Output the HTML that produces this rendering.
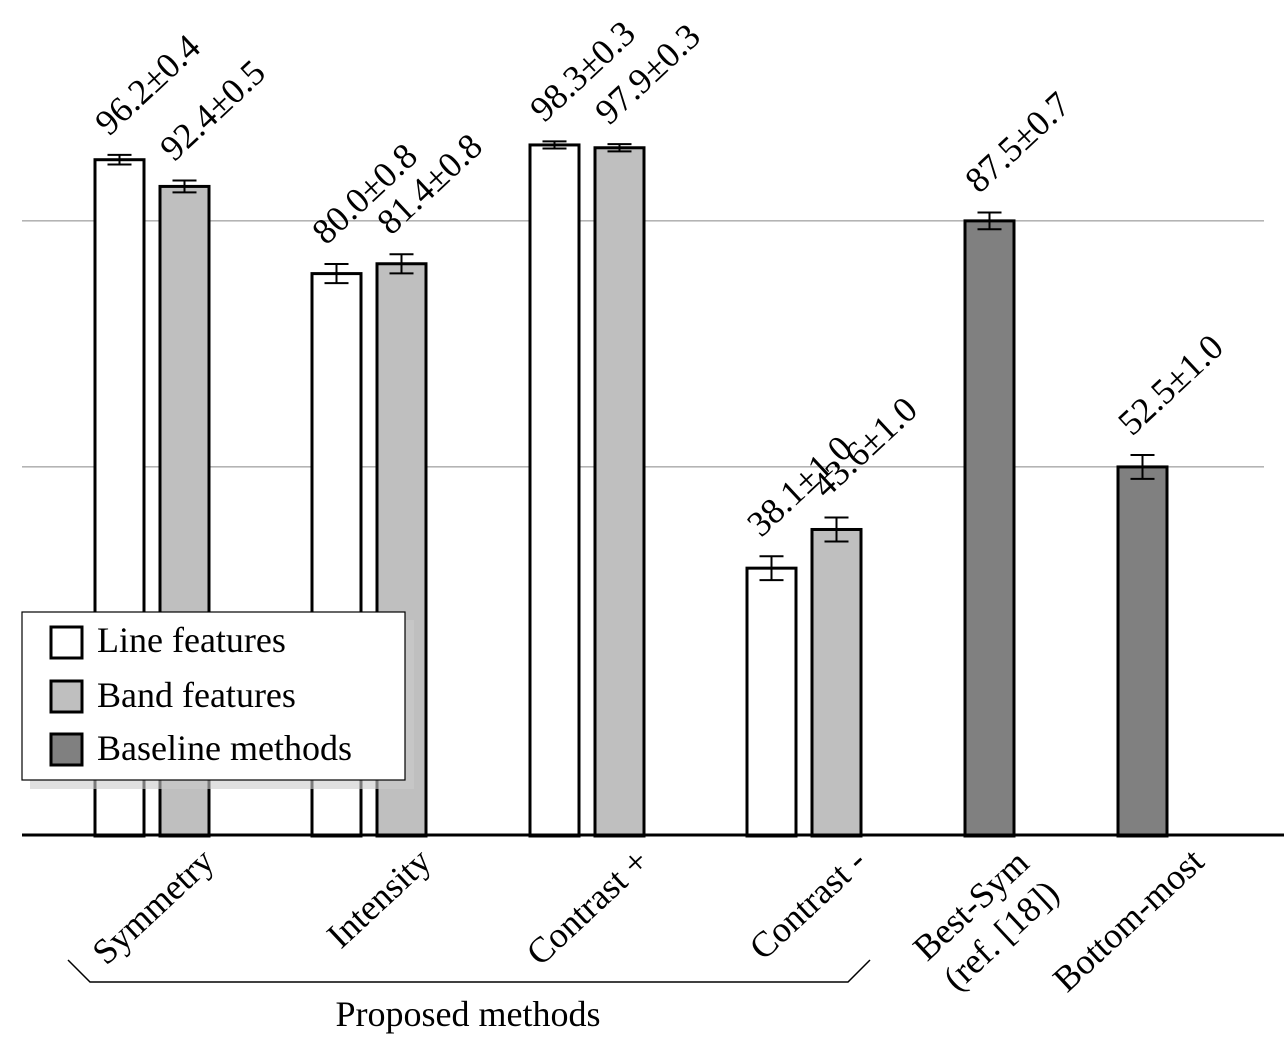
<!DOCTYPE html>
<html><head><meta charset="utf-8"><style>
body{margin:0;background:#fff}
svg text{font-family:"Liberation Serif",serif;fill:#000}
</style></head><body>
<svg id="chart" width="1284" height="1048" xmlns="http://www.w3.org/2000/svg">
<g id="grid"></g>
<g id="bars"></g>
<line x1="22" x2="1284" y1="835" y2="835" stroke="#000" stroke-width="3"/>
<g id="xlabels"></g>
<path d="M68 960 L90 982 L848 982 L870 960" fill="none" stroke="#000" stroke-width="1.5"/>
<text x="468" y="1026" font-size="36" text-anchor="middle">Proposed methods</text>
<g>
<rect x="30" y="620" width="384" height="169" fill="#ccc" opacity="0.6"/>
<rect x="22" y="612" width="383" height="168" fill="#fff" stroke="#000" stroke-width="1.2"/>
<rect x="51" y="627" width="31" height="31" fill="#fff" stroke="#000" stroke-width="3"/>
<text x="97" y="652" font-size="36">Line features</text>
<rect x="51" y="681" width="31" height="31" fill="#bfbfbf" stroke="#000" stroke-width="3"/>
<text x="97" y="707" font-size="36">Band features</text>
<rect x="51" y="734" width="31" height="31" fill="#808080" stroke="#000" stroke-width="3"/>
<text x="97" y="760" font-size="36">Baseline methods</text>
</g>
</svg>
<script>
const barLefts = [95,160,312,377,530,595,747,812,965,1118];
const values = [96.2,92.4,80.0,81.4,98.3,97.9,38.1,43.6,87.5,52.5];
const errors = [0.4,0.5,0.8,0.8,0.3,0.3,1.0,1.0,0.7,1.0];
const valueLabels = ["96.2±0.4","92.4±0.5","80.0±0.8","81.4±0.8","98.3±0.3","97.9±0.3","38.1±1.0","43.6±1.0","87.5±0.7","52.5±1.0"];
const barKinds = ["line","band","line","band","line","band","line","band","base","base"];
const categories = [["Symmetry"],["Intensity"],["Contrast +"],["Contrast -"],["Best-Sym","(ref. [18])"],["Bottom-most"]];
const categoryCenters = [152,369,587,804,990,1142];
const gridValues = [52.5,87.5];
const NS="http://www.w3.org/2000/svg";
const y0=836, k=7.03, bw=49, ang=-43;
function y(v){return y0-v*k;}
const fills={line:"#fff",band:"#bfbfbf",base:"#808080"};
const grid=document.getElementById('grid');
gridValues.forEach(g=>{const l=document.createElementNS(NS,'line');


l.setAttribute('x1',22);l.setAttribute('x2',1264);l.setAttribute('y1',y(g));l.setAttribute('y2',y(g));l.setAttribute('stroke','#888');l.setAttribute('stroke-width','1');grid.appendChild(l);});
const bars=document.getElementById('bars');
values.forEach((v,i)=>{
 const x=barLefts[i];
 const r=document.createElementNS(NS,'rect');
 
 
 r.setAttribute('x',x);r.setAttribute('y',y(v));r.setAttribute('width',bw);r.setAttribute('height',y0-y(v));
 r.setAttribute('fill',fills[barKinds[i]]);r.setAttribute('stroke','#000');r.setAttribute('stroke-width','3');
 bars.appendChild(r);
 const cx=x+bw/2, e=errors[i]*1.7*k;
 const p=document.createElementNS(NS,'path');
 
 
 p.setAttribute('d',`M${cx-12} ${y(v)-e}H${cx+12}M${cx} ${y(v)-e}V${y(v)+e}M${cx-12} ${y(v)+e}H${cx+12}`);
 p.setAttribute('stroke','#000');p.setAttribute('stroke-width','2');p.setAttribute('fill','none');
 bars.appendChild(p);
 const t=document.createElementNS(NS,'text');
 
 
 const tx=x+14, ty=y(v)-e-18;
 t.setAttribute('x',tx);t.setAttribute('y',ty);t.setAttribute('font-size','36');
 t.setAttribute('transform',`rotate(${ang} ${tx} ${ty})`);
 t.textContent=valueLabels[i];bars.appendChild(t);
});
const xl=document.getElementById('xlabels');
categories.forEach((c,i)=>{
 c.forEach((s,j)=>{
  const t=document.createElementNS(NS,'text');
  
  
  let tx,ty;
  if(c.length>1){
   tx=categoryCenters[i]-11+j*30; ty=914+j*30;
   t.setAttribute('text-anchor','middle');
  } else {
   tx=categoryCenters[i]+64; ty=864;
   t.setAttribute('text-anchor','end');
  }
  t.setAttribute('x',tx);t.setAttribute('y',ty);t.setAttribute('font-size','36');
  t.setAttribute('transform',`rotate(${ang} ${tx} ${ty})`);
  t.textContent=s;xl.appendChild(t);
 });
});
</script>
</body></html>
